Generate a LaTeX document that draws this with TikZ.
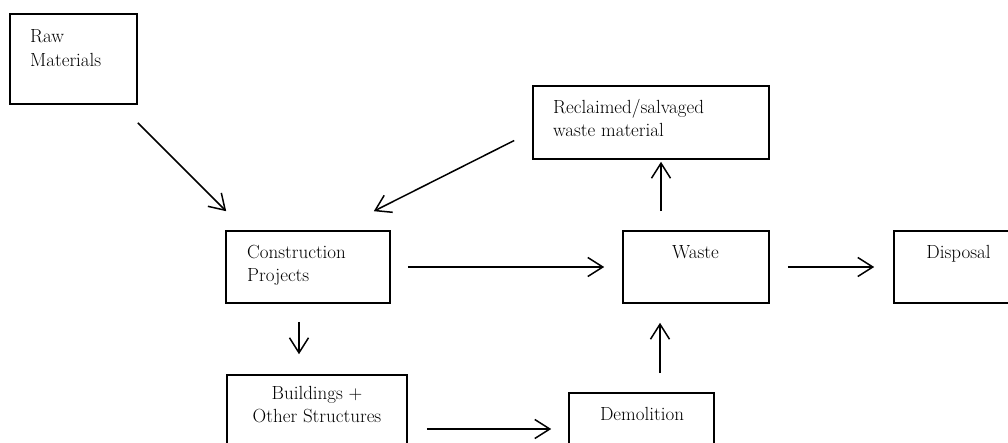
\documentclass[tikz,border=0pt]{standalone}
\usetikzlibrary{arrows.meta,calc}
\begin{document}
\begin{tikzpicture}[x=1pt,y=-1pt,
  box/.style={draw=black,line width=1.6pt,rectangle,inner sep=0pt},
  lbl/.style={inner sep=0pt,font=\fontsize{19}{23}\selectfont},
  flow/.style={line width=1.5pt,-{Straight Barb[length=15pt,width=19pt]}}]
\useasboundingbox (0,0) rectangle (1008,442);
\clip (0,0) rectangle (1008,442);
% boxes
\node[box,minimum width=127pt,minimum height=90pt] (raw) at (73.5,59) {};
\node[box,minimum width=236pt,minimum height=73pt] (rec) at (651,122.5) {};
\node[box,minimum width=164pt,minimum height=72pt] (cons) at (308,267) {};
\node[box,minimum width=146pt,minimum height=72pt] (waste) at (696,267) {};
\node[box,minimum width=128pt,minimum height=72pt] (disp) at (958,267) {};
\node[box,minimum width=180pt,minimum height=87pt] (build) at (317,418.5) {};
\node[box,minimum width=145pt,minimum height=77pt] (dem) at (641.5,431.5) {};
% texts
\node[lbl,anchor=base west] (rawa) at (30,42) {Raw};
\node[lbl,anchor=base west] (rawb) at (30,66) {Materials};
\node[lbl,anchor=base west] (reca) at (553,113) {Reclaimed/salvaged};
\node[lbl,anchor=base west] (recb) at (553,136) {waste material};
\node[lbl,anchor=base west] (consa) at (247,258) {Construction};
\node[lbl,anchor=base west] (consb) at (247,281) {Projects};
\node[lbl,anchor=base] (wastet) at (695.5,258) {Waste};
\node[lbl,anchor=base] (dispt) at (958.5,258) {Disposal};
\node[lbl,anchor=base] (builda) at (317,399) {Buildings +};
\node[lbl,anchor=base] (buildb) at (317,422) {Other Structures};
\node[lbl,anchor=base] (demt) at (642,420) {Demolition};
% connectors
\draw[flow] ($(raw.south east)+(0,18)$) -- ($(cons.north west)+(1,-19)$);
\draw[flow] ($(rec.west)+(-18,18)$) -- ($(cons.north east)+(-17,-19)$);
\draw[flow] ($(cons.east)+(17,0)$) -- ($(waste.west)+(-18,0)$);
\draw[flow] ($(waste.east)+(18,0)$) -- ($(disp.west)+(-19,0)$);
\draw[flow] ($(cons.south)+(-9,18)$) -- ($(build.north)+(-18,-20)$);
\draw[flow] ($(waste.north)+(-35,-19)$) -- ($(rec.south)+(10,2)$);
\draw[flow] ($(dem.north)+(18.5,-19)$) -- ($(waste.south)+(-36,19)$);
\draw[flow] ($(build.east)+(19,10.5)$) -- ($(dem.west)+(-17,-2.5)$);
\end{tikzpicture}
\end{document}
